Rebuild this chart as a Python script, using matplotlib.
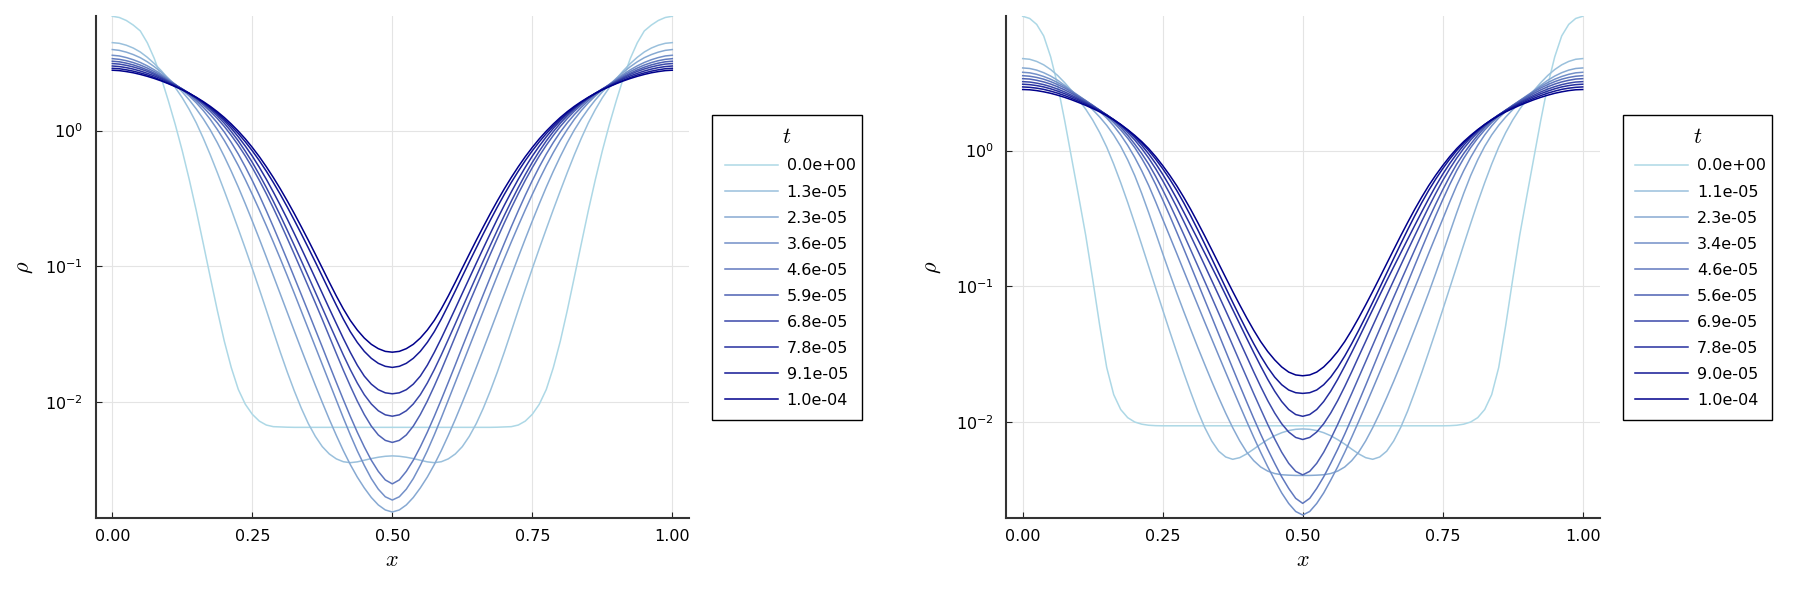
import numpy as np
import matplotlib
matplotlib.use("Agg")
import matplotlib.pyplot as plt
from matplotlib.colors import LinearSegmentedColormap
from matplotlib.ticker import FixedLocator, NullLocator

plt.rcParams["font.family"] = ["DejaVu Sans"]
plt.rcParams["mathtext.fontset"] = "dejavusans"

# profiles are symmetric about x = 0.5; log10(rho) read at x = 0, 0.0125, ..., 0.5
x_half = np.linspace(0.0, 0.5, 41)

# ---------------- left panel ----------------
t_left = [0.0, 1.3e-05, 2.3e-05, 3.6e-05, 4.6e-05, 5.9e-05, 6.8e-05, 7.8e-05, 9.1e-05, 1.0e-04]

lg_left_0 = [0.841, 0.832, 0.810, 0.776, 0.733, 0.646, 0.530, 0.385, 0.220, 0.043,
             -0.150, -0.362, -0.590, -0.833, -1.080, -1.323, -1.550, -1.745, -1.905, -2.014,
             -2.088, -2.138, -2.167, -2.179, -2.181, -2.183, -2.184, -2.184, -2.184, -2.184,
             -2.184, -2.184, -2.184, -2.184, -2.184, -2.184, -2.184, -2.184, -2.184, -2.184, -2.184]
lg_left_1 = [0.647, 0.642, 0.628, 0.607, 0.578, 0.539, 0.493, 0.440, 0.381, 0.316,
             0.241, 0.154, 0.056, -0.057, -0.179, -0.309, -0.444, -0.582, -0.724, -0.868,
             -1.016, -1.167, -1.321, -1.477, -1.631, -1.778, -1.916, -2.043, -2.156, -2.250,
             -2.326, -2.380, -2.416, -2.437, -2.444, -2.438, -2.426, -2.414, -2.404, -2.397, -2.394]
lg_left_2 = [0.596, 0.590, 0.577, 0.559, 0.536, 0.506, 0.470, 0.429, 0.384, 0.336,
             0.284, 0.225, 0.159, 0.086, 0.004, -0.089, -0.191, -0.300, -0.416, -0.539,
             -0.666, -0.797, -0.931, -1.067, -1.203, -1.339, -1.475, -1.610, -1.743, -1.874,
             -2.001, -2.125, -2.243, -2.355, -2.458, -2.550, -2.630, -2.700, -2.755, -2.792, -2.807]
lg_left_3 = [0.554, 0.549, 0.537, 0.521, 0.501, 0.476, 0.447, 0.414, 0.377, 0.340,
             0.299, 0.254, 0.204, 0.147, 0.082, 0.008, -0.073, -0.162, -0.258, -0.361,
             -0.470, -0.583, -0.700, -0.820, -0.943, -1.069, -1.198, -1.329, -1.460, -1.591,
             -1.722, -1.853, -1.984, -2.114, -2.239, -2.357, -2.464, -2.561, -2.639, -2.695, -2.719]
lg_left_4 = [0.529, 0.524, 0.514, 0.500, 0.482, 0.460, 0.434, 0.404, 0.371, 0.338,
             0.303, 0.264, 0.220, 0.171, 0.117, 0.057, -0.011, -0.088, -0.173, -0.267,
             -0.368, -0.476, -0.590, -0.708, -0.830, -0.954, -1.080, -1.207, -1.335, -1.464,
             -1.593, -1.724, -1.853, -1.980, -2.103, -2.220, -2.328, -2.426, -2.508, -2.571, -2.600]
lg_left_5 = [0.510, 0.506, 0.496, 0.483, 0.466, 0.446, 0.422, 0.395, 0.365, 0.336,
             0.305, 0.270, 0.232, 0.189, 0.142, 0.089, 0.030, -0.036, -0.108, -0.187,
             -0.273, -0.366, -0.465, -0.570, -0.680, -0.794, -0.910, -1.028, -1.148, -1.268,
             -1.390, -1.515, -1.640, -1.763, -1.880, -1.991, -2.090, -2.175, -2.240, -2.280, -2.295]
lg_left_6 = [0.493, 0.489, 0.480, 0.468, 0.453, 0.435, 0.413, 0.388, 0.361, 0.335,
             0.306, 0.274, 0.239, 0.200, 0.156, 0.108, 0.054, -0.008, -0.076, -0.152,
             -0.234, -0.324, -0.419, -0.520, -0.625, -0.734, -0.845, -0.958, -1.073, -1.189,
             -1.305, -1.422, -1.537, -1.651, -1.759, -1.858, -1.944, -2.012, -2.062, -2.092, -2.102]
lg_left_7 = [0.475, 0.471, 0.463, 0.452, 0.438, 0.421, 0.402, 0.380, 0.355, 0.330,
             0.303, 0.274, 0.241, 0.205, 0.165, 0.121, 0.072, 0.016, -0.046, -0.114,
             -0.188, -0.270, -0.358, -0.452, -0.550, -0.652, -0.758, -0.866, -0.976, -1.087,
             -1.198, -1.310, -1.420, -1.529, -1.632, -1.727, -1.807, -1.866, -1.907, -1.930, -1.937]
lg_left_8 = [0.458, 0.455, 0.447, 0.437, 0.424, 0.409, 0.391, 0.370, 0.348, 0.325,
             0.300, 0.272, 0.242, 0.208, 0.171, 0.130, 0.084, 0.033, -0.022, -0.083,
             -0.149, -0.221, -0.299, -0.382, -0.470, -0.563, -0.660, -0.760, -0.863, -0.967,
             -1.073, -1.180, -1.285, -1.387, -1.480, -1.559, -1.625, -1.676, -1.713, -1.735, -1.743]
lg_left_9 = [0.444, 0.441, 0.434, 0.425, 0.413, 0.399, 0.383, 0.365, 0.345, 0.323,
             0.300, 0.274, 0.245, 0.213, 0.178, 0.139, 0.096, 0.048, -0.004, -0.061,
             -0.124, -0.192, -0.266, -0.345, -0.429, -0.518, -0.611, -0.708, -0.807, -0.909,
             -1.012, -1.116, -1.217, -1.312, -1.397, -1.468, -1.527, -1.573, -1.605, -1.625, -1.631]

# ---------------- right panel ----------------
t_right = [0.0, 1.1e-05, 2.3e-05, 3.4e-05, 4.6e-05, 5.6e-05, 6.9e-05, 7.8e-05, 9.0e-05, 1.0e-04]

lg_right_0 = [0.990, 0.974, 0.930, 0.845, 0.690, 0.480, 0.220, -0.060, -0.340, -0.625,
              -0.950, -1.290, -1.600, -1.800, -1.910, -1.970, -2.002, -2.018, -2.026, -2.029,
              -2.030, -2.030, -2.030, -2.030, -2.030, -2.030, -2.030, -2.030, -2.030, -2.030,
              -2.030, -2.030, -2.030, -2.030, -2.030, -2.030, -2.030, -2.030, -2.030, -2.030, -2.030]
lg_right_1 = [0.678, 0.673, 0.657, 0.632, 0.597, 0.553, 0.500, 0.441, 0.375, 0.305,
              0.225, 0.132, 0.025, -0.100, -0.237, -0.383, -0.537, -0.695, -0.855, -1.015,
              -1.175, -1.333, -1.487, -1.638, -1.782, -1.920, -2.042, -2.142, -2.217, -2.260,
              -2.277, -2.265, -2.237, -2.202, -2.165, -2.132, -2.103, -2.081, -2.065, -2.056, -2.053]
lg_right_2 = [0.609, 0.605, 0.593, 0.574, 0.549, 0.518, 0.481, 0.440, 0.396, 0.350,
              0.301, 0.247, 0.186, 0.115, 0.031, -0.069, -0.184, -0.316, -0.459, -0.608,
              -0.759, -0.906, -1.049, -1.186, -1.319, -1.450, -1.577, -1.702, -1.822, -1.937,
              -2.044, -2.141, -2.224, -2.287, -2.334, -2.364, -2.382, -2.391, -2.394, -2.396, -2.396]
lg_right_3 = [0.577, 0.573, 0.562, 0.546, 0.526, 0.501, 0.472, 0.439, 0.404, 0.368,
              0.330, 0.288, 0.240, 0.182, 0.115, 0.038, -0.050, -0.149, -0.258, -0.379,
              -0.506, -0.632, -0.758, -0.886, -1.013, -1.139, -1.265, -1.389, -1.513, -1.636,
              -1.758, -1.879, -1.998, -2.114, -2.226, -2.332, -2.431, -2.525, -2.603, -2.662, -2.688]
lg_right_4 = [0.552, 0.548, 0.539, 0.526, 0.508, 0.486, 0.461, 0.432, 0.400, 0.368,
              0.334, 0.296, 0.254, 0.206, 0.152, 0.091, 0.022, -0.058, -0.148, -0.251,
              -0.363, -0.480, -0.601, -0.724, -0.849, -0.975, -1.101, -1.227, -1.354, -1.480,
              -1.606, -1.731, -1.854, -1.975, -2.092, -2.203, -2.307, -2.406, -2.492, -2.565, -2.602]
lg_right_5 = [0.530, 0.527, 0.518, 0.506, 0.490, 0.470, 0.447, 0.421, 0.392, 0.363,
              0.332, 0.298, 0.260, 0.218, 0.170, 0.113, 0.048, -0.022, -0.100, -0.191,
              -0.290, -0.395, -0.505, -0.618, -0.733, -0.849, -0.965, -1.082, -1.200, -1.318,
              -1.437, -1.556, -1.674, -1.792, -1.907, -2.020, -2.127, -2.225, -2.307, -2.366, -2.392]
lg_right_6 = [0.508, 0.505, 0.497, 0.486, 0.471, 0.453, 0.432, 0.408, 0.382, 0.356,
              0.328, 0.297, 0.263, 0.225, 0.182, 0.133, 0.078, 0.015, -0.056, -0.135,
              -0.222, -0.317, -0.417, -0.522, -0.629, -0.737, -0.847, -0.958, -1.069, -1.181,
              -1.294, -1.407, -1.519, -1.632, -1.741, -1.844, -1.936, -2.015, -2.076, -2.116, -2.131]
lg_right_7 = [0.489, 0.486, 0.479, 0.469, 0.455, 0.438, 0.419, 0.397, 0.373, 0.349,
              0.323, 0.295, 0.263, 0.228, 0.189, 0.145, 0.096, 0.039, -0.025, -0.096,
              -0.175, -0.262, -0.355, -0.453, -0.553, -0.654, -0.756, -0.858, -0.961, -1.067,
              -1.173, -1.279, -1.385, -1.489, -1.590, -1.687, -1.775, -1.851, -1.910, -1.947, -1.960]
lg_right_8 = [0.469, 0.466, 0.460, 0.451, 0.438, 0.423, 0.405, 0.385, 0.363, 0.341,
              0.317, 0.290, 0.261, 0.228, 0.192, 0.151, 0.106, 0.056, 0.000, -0.064,
              -0.134, -0.211, -0.294, -0.385, -0.482, -0.584, -0.689, -0.796, -0.904, -1.012,
              -1.119, -1.224, -1.326, -1.424, -1.516, -1.599, -1.671, -1.727, -1.766, -1.786, -1.791]
lg_right_9 = [0.450, 0.448, 0.442, 0.433, 0.422, 0.408, 0.392, 0.374, 0.354, 0.333,
              0.310, 0.285, 0.257, 0.226, 0.192, 0.154, 0.112, 0.066, 0.014, -0.045,
              -0.111, -0.182, -0.259, -0.344, -0.434, -0.530, -0.629, -0.731, -0.834, -0.937,
              -1.039, -1.138, -1.234, -1.325, -1.409, -1.482, -1.544, -1.596, -1.634, -1.655, -1.661]

lg_left = [lg_left_0, lg_left_1, lg_left_2, lg_left_3, lg_left_4,
           lg_left_5, lg_left_6, lg_left_7, lg_left_8, lg_left_9]
lg_right = [lg_right_0, lg_right_1, lg_right_2, lg_right_3, lg_right_4,
            lg_right_5, lg_right_6, lg_right_7, lg_right_8, lg_right_9]

x_full = np.concatenate([x_half, 1.0 - x_half[-2::-1]])

cmap = LinearSegmentedColormap.from_list("lb_db", ["#add8e6", "#00008b"])

fig = plt.figure(figsize=(18.2, 5.89), dpi=100)
W, H = 1820.0, 589.0


def panel(left_px, profiles, times, ylim, legend_left_px, ylabel_x):
    ax = fig.add_axes([left_px / W, 1 - 517.7 / H, 593.6 / W, 501.4 / H])
    n = len(profiles)
    for k, (prof, t) in enumerate(zip(profiles, times)):
        prof = np.asarray(prof)
        y = 10.0 ** np.concatenate([prof, prof[-2::-1]])
        ax.plot(x_full, y, color=cmap(k / (n - 1)), lw=1.1, label="%.1e" % t)

    ax.set_yscale("log")
    ax.set_xlim(-0.03, 1.03)
    ax.set_ylim(*ylim)
    ax.xaxis.set_major_locator(FixedLocator([0.0, 0.25, 0.5, 0.75, 1.0]))
    ax.set_xticklabels(["0.00", "0.25", "0.50", "0.75", "1.00"])
    ax.yaxis.set_major_locator(FixedLocator([1e-2, 1e-1, 1e0]))
    ax.set_yticklabels([r"$10^{-2}$", r"$10^{-1}$", r"$10^{0}$"])
    ax.yaxis.set_minor_locator(NullLocator())

    ax.grid(True, color="#e4e4e4", lw=0.8)
    ax.set_axisbelow(True)
    for s in ["top", "right"]:
        ax.spines[s].set_visible(False)
    for s in ["left", "bottom"]:
        ax.spines[s].set_linewidth(1.5)
        ax.spines[s].set_color("#333333")
    ax.tick_params(axis="both", direction="in", length=4.5, width=0.8,
                   color="#222222", labelsize=11.5)
    ax.tick_params(axis="x", pad=8)
    ax.tick_params(axis="y", pad=9)

    xl = ax.set_xlabel(r"$x$", fontsize=16, math_fontfamily="cm")
    ax.xaxis.set_label_coords(0.5, -0.084)
    xl.set_va("center")
    yl = ax.set_ylabel(r"$\rho$", fontsize=16, math_fontfamily="cm")
    ax.yaxis.set_label_coords(ylabel_x, 0.5)
    yl.set_va("center")

    leg = ax.legend(loc="upper left",
                    bbox_to_anchor=(legend_left_px / W, 1 - 114.7 / H, 149.7 / W, 0.0),
                    bbox_transform=fig.transFigure, mode="expand", borderaxespad=0,
                    fontsize=11.5, title=r"$t$", title_fontsize=16,
                    frameon=True, fancybox=False, framealpha=1.0, edgecolor="black",
                    handlelength=3.3, handletextpad=0.55, labelspacing=0.69,
                    borderpad=0.8)
    leg.get_frame().set_linewidth(1.0)
    leg.get_title().set_math_fontfamily("cm")
    return ax


panel(95.5, lg_left, t_left, (1.416e-3, 6.93), 712.3, -0.119)
panel(1005.9, lg_right, t_right, (1.96e-3, 9.77), 1622.7, -0.122)

fig.savefig("out.png", dpi=100)
